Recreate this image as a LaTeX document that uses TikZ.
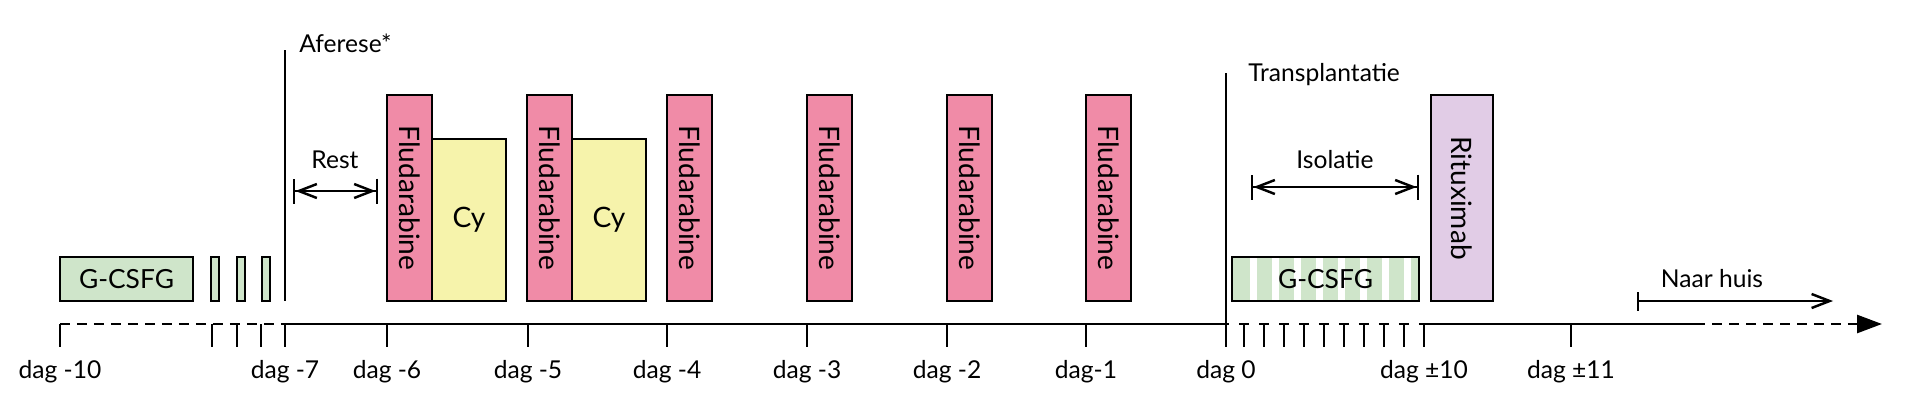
\documentclass[tikz,border=0pt]{standalone}
\usepackage{fontspec}
\setmainfont{Lato}
\usetikzlibrary{arrows.meta}

\definecolor{fludpink}{HTML}{F08BA7}
\definecolor{cyyellow}{HTML}{F6F3AB}
\definecolor{csfgreen}{HTML}{CFE5CA}
\definecolor{rituxpurple}{HTML}{E1CCE6}

\tikzset{
  box/.style={draw=black, line width=1.4pt, inner sep=0pt},
  flud/.style={box, fill=fludpink, rotate=-90, minimum width=4.12cm, minimum height=0.9cm, font=\fontsize{16}{18}\selectfont},
  cy/.style={box, fill=cyyellow, minimum width=1.48cm, minimum height=3.24cm, font=\fontsize{16}{18}\selectfont},
  csf/.style={box, fill=csfgreen, minimum height=0.88cm, font=\fontsize{15}{17}\selectfont},
  axis/.style={line width=1.5pt},
  dashline/.style={dash pattern=on 0.2cm off 0.14cm},
  daglabel/.style={inner sep=0pt, font=\fontsize{14}{16}\selectfont},
  txt/.style={inner sep=0pt, font=\fontsize{14}{16}\selectfont},
  span/.style={line width=1.4pt, {Bar[width=0.5cm]Straight Barb[length=0.36cm,width=0.28cm]}-{Straight Barb[length=0.36cm,width=0.28cm]Bar[width=0.5cm]}},
}

\begin{document}
\begin{tikzpicture}[x=0.02cm, y=-0.02cm]
\useasboundingbox (0,0) rectangle (1920,413);

%% time axis
\draw[axis, dashline] (60,324) -- (285,324);
\draw[axis] (285,324) -- (1226,324);
\draw[axis, dash pattern=on 0.2cm off 0.2cm, dash phase=0.14cm] (1226,324) -- (1424,324);
\draw[axis] (1424,324) -- (1695,324);
\draw[axis, dashline, -{Triangle[length=0.5cm,width=0.36cm]}] (1695,324) -- (1882,324);

% ticks
\foreach \x in {60,212,237,261,285,387,528,667,807,947,1086,1424,1571}
  \draw[axis] (\x,324) -- (\x,347);
\foreach \x in {1244,1264,...,1404}
  \draw[axis] (\x,324) -- (\x,347);

% days
\foreach \x/\t/\n in {60/dag -10/d10, 285/dag -7/d7, 387/dag -6/d6, 528/dag -5/d5,
                      667/dag -4/d4, 807/dag -3/d3, 947/dag -2/d2, 1086/dag-1/d1,
                      1226/dag 0/d0, 1424/dag ±10/p10, 1571/dag ±11/p11}
  \node[daglabel] (\n) at (\x,372) {\t};

%% aferese
\draw[axis] (285,50) -- (285,301);
\node[txt, anchor=west] (aferese) at (299,43) {Aferese*};

% G-CSFG before
\node[csf, minimum width=2.66cm] (gcsf1) at (126.5,279) {G-CSFG};
\foreach \x/\n in {215/s1, 241/s2, 266/s3}
  \node[csf, minimum width=0.16cm] (\n) at (\x,279) {};

% Rest
\coordinate (restL) at (293,191);
\coordinate (restR) at (378,191);
\draw[span] (restL) -- (restR);
\node[txt] (rest) at (335,160) {Rest};

%% chemo
\foreach \x/\n in {409.5/f6, 549.5/f5, 689.5/f4, 829.5/f3, 969.5/f2, 1108.5/f1}
  \node[flud] (\n) at (\x,198) {Fludarabine};
\node[cy] (cy6) at (469,220) {Cy};
\node[cy] (cy5) at (609,220) {Cy};

%% transplantatie
\draw[axis] (1226,73) -- (1226,347);
\node[txt, anchor=west] (transpl) at (1248,75) {Transplantatie};

% G-CSFG after
\node[csf, minimum width=3.74cm,
      path picture={\foreach \k in {0,...,7}
        \fill[white] ([xshift=0.35cm+\k*0.442cm]path picture bounding box.south west) rectangle ++(0.14cm,0.88cm);}]
  (gcsf2) at (1325.5,279) {G-CSFG};

% Isolatie
\coordinate (isoL) at (1251,187);
\coordinate (isoR) at (1419,187);
\draw[span] (isoL) -- (isoR);
\node[txt] (isolatie) at (1335,160) {Isolatie};

% Rituximab
\node[box, fill=rituxpurple, rotate=-90, minimum width=4.12cm, minimum height=1.24cm,
      font=\fontsize{16}{18}\selectfont] (ritux) at (1462,198) {Rituximab};

% Naar huis
\coordinate (huisL) at (1637,301);
\coordinate (huisR) at (1833,301);
\draw[line width=1.4pt, {Bar[width=0.38cm]}-{Straight Barb[length=0.36cm,width=0.28cm]}] (huisL) -- (huisR);
\node[txt] (huis) at (1712,279) {Naar huis};

\end{tikzpicture}
\end{document}
